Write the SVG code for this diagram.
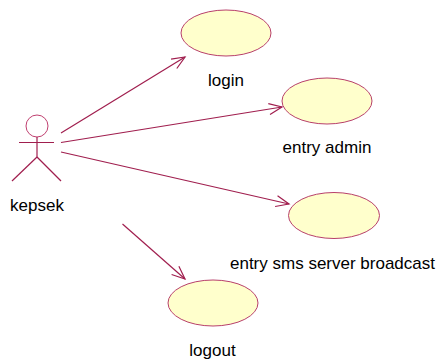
<svg xmlns="http://www.w3.org/2000/svg" width="437" height="360" viewBox="0 0 437 360">
<style>
.uc{fill:#ffffcc;stroke:#b8406a;stroke-width:1}
.lbl{font-family:"Liberation Sans",Arial,sans-serif;font-size:17px;fill:#000;text-anchor:middle}
.conn line{stroke:#a01e4e;stroke-width:1.2;fill:none}
.actor{stroke:#a01e4e;stroke-width:1.2;fill:none}
</style>
<defs>
<marker id="arr" markerUnits="userSpaceOnUse" markerWidth="16" markerHeight="14" viewBox="-14 -7 16 14" refX="0" refY="0" orient="auto">
<path d="M-13,-5.5 L0,0 L-13,5.5" fill="none" stroke="#a01e4e" stroke-width="1.2"/>
</marker>
</defs>
<rect width="437" height="360" fill="#fff"/>
<g id="kepsek">
<circle cx="37" cy="126" r="11" fill="#fff" stroke="#c04070" stroke-width="1"/>
<line class="actor" x1="37" y1="137" x2="37" y2="157"/>
<line class="actor" x1="19" y1="142.5" x2="54" y2="142.5"/>
<line class="actor" x1="37" y1="157" x2="12" y2="181"/>
<line class="actor" x1="37" y1="157" x2="61" y2="181"/>
<text class="lbl" x="37" y="211">kepsek</text>
</g>
<g id="login">
<ellipse class="uc" cx="226" cy="33" rx="45" ry="23"/>
<text class="lbl" x="226" y="86">login</text>
</g>
<g id="entry-admin">
<ellipse class="uc" cx="327" cy="101" rx="45" ry="23"/>
<text class="lbl" x="327" y="153">entry admin</text>
</g>
<g id="entry-sms">
<ellipse class="uc" cx="334" cy="215.5" rx="45.5" ry="23"/>
<text class="lbl" x="332.5" y="269">entry sms server broadcast</text>
</g>
<g id="logout">
<ellipse class="uc" cx="213" cy="303" rx="45" ry="23"/>
<text class="lbl" x="212.5" y="356">logout</text>
</g>
<g class="conn" id="connectors">
<line x1="61" y1="133" x2="185" y2="57" marker-end="url(#arr)"/>
<line x1="61" y1="142.5" x2="282" y2="107" marker-end="url(#arr)"/>
<line x1="61" y1="152" x2="289" y2="204" marker-end="url(#arr)"/>
<line x1="122.5" y1="224" x2="185" y2="279" marker-end="url(#arr)"/>
</g>
</svg>
